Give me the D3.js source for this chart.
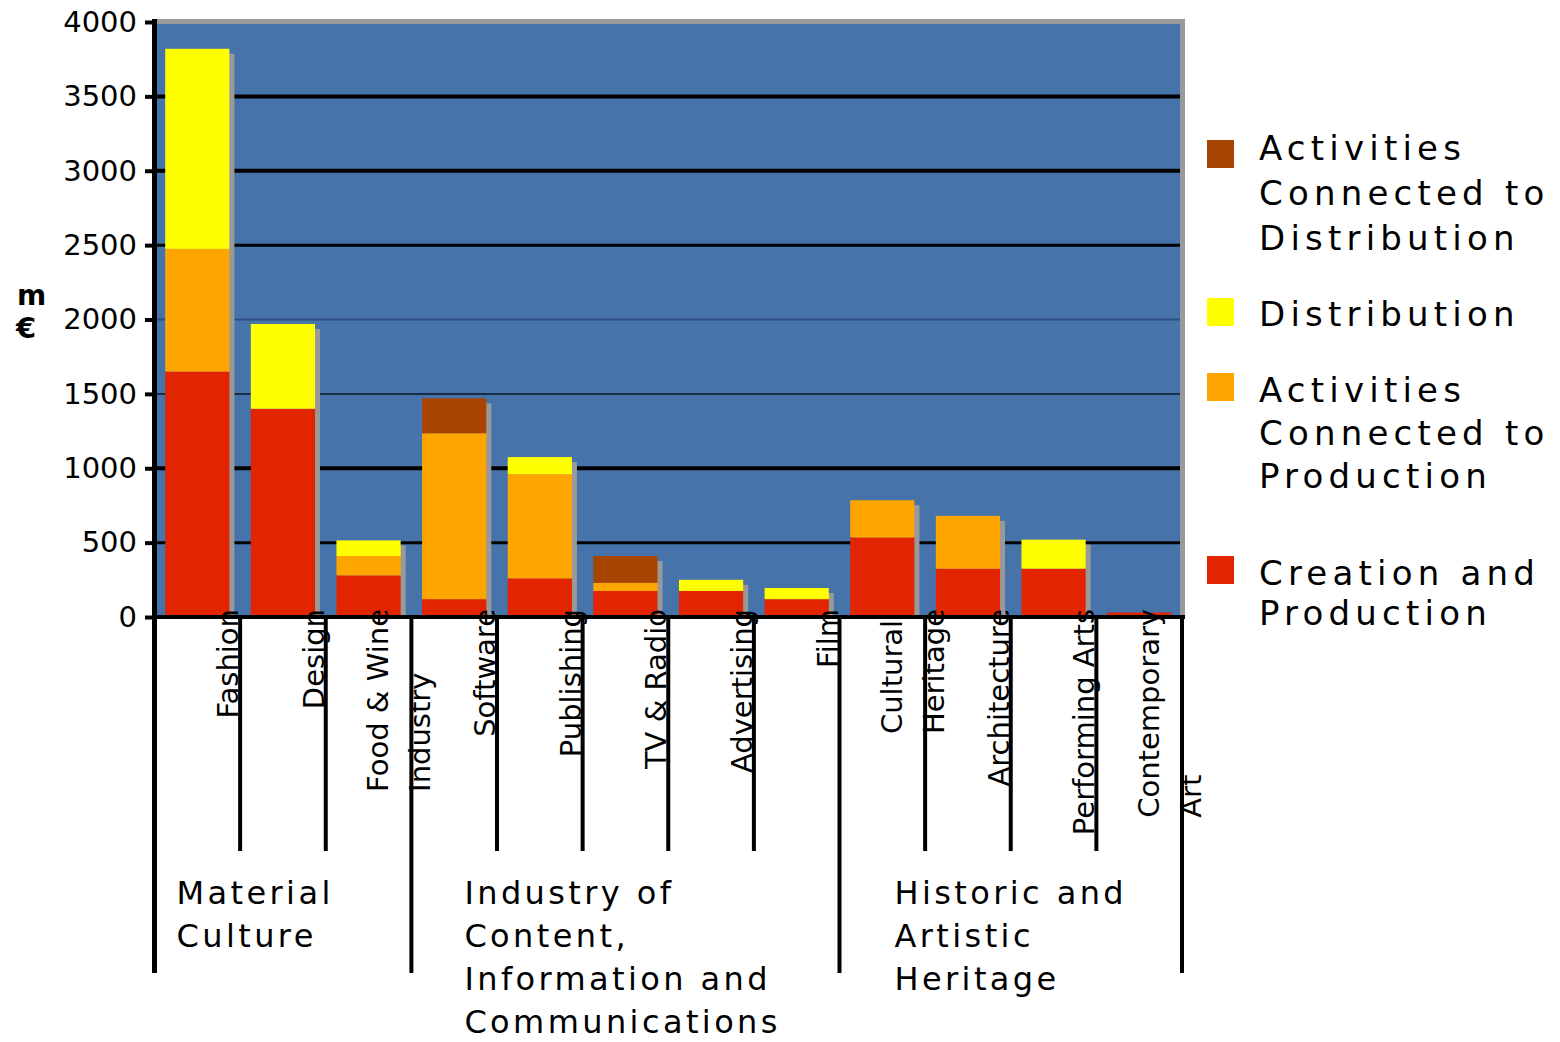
<!DOCTYPE html>
<html><head><meta charset="utf-8">
<script src="https://cdn.jsdelivr.net/npm/d3@7"></script>
<style>
body{margin:0;background:#fff}
svg{display:block}
text{font-family:"DejaVu Sans",Verdana,sans-serif;fill:#000}
</style>
</head><body>
<svg id="chart" width="1560" height="1042"></svg>
<script>
// ---------------- data ----------------
const categories = ["Fashion","Design","Food & Wine Industry","Software","Publishing","TV & Radio","Advertising","Film","Cultural Heritage","Architecture","Performing Arts","Contemporary Art"];
const categoryLines = [["Fashion"],["Design"],["Food & Wine","Industry"],["Software"],["Publishing"],["TV & Radio"],["Advertising"],["Film"],["Cultural","Heritage"],["Architecture"],["Performing Arts"],["Contemporary","Art"]];
const creationProduction    = [1650,1400,280,120,260,175,175,120,535,325,325,30];
const activitiesProduction  = [825,0,130,1115,700,55,0,0,250,355,0,0];
const distribution          = [1345,570,105,0,115,0,75,75,0,0,195,0];
const activitiesDistribution= [0,0,0,235,0,180,0,0,0,0,0,0];
const seriesKeys   = ["creation","actProd","distrib","actDist"];
const seriesNames  = ["Creation and Production","Activities Connected to Production","Distribution","Activities Connected to Distribution"];
const seriesColors = ["#e32400","#ffa500","#ffff00","#a84500"];
const legendLines  = [["Activities","Connected to","Distribution"],["Distribution"],["Activities","Connected to","Production"],["Creation and","Production"]];
const legendSeries = [3,2,1,0];
const groupNames = ["Material Culture","Industry of Content, Information and Communications","Historic and Artistic Heritage"];
const groupLines = [["Material","Culture"],["Industry of","Content,","Information and","Communications"],["Historic and","Artistic","Heritage"]];
const groupSizes = [3,5,4];
const yTicks = [0,500,1000,1500,2000,2500,3000,3500,4000];
const yUnitLines = ["m","€"];

// ---------------- layout ----------------
const svg = d3.select("#chart");
const plotL = 157, plotR = 1180, plotT = 24, base = 617;
const x = d3.scaleBand().domain(categories).range([154.5, 1182]).paddingInner(0.25).paddingOuter(0.125);
const y = d3.scaleLinear().domain([0, 4000]).range([base, 22]);
const boundary = c => x(c) + x.bandwidth() + x.step() * 0.125;
const total = d => d.creation + d.actProd + d.distrib + d.actDist;

const rows = categories.map((c, i) => ({cat: c, creation: creationProduction[i], actProd: activitiesProduction[i], distrib: distribution[i], actDist: activitiesDistribution[i]}));
const stacked = d3.stack().keys(seriesKeys)(rows);

// plot frame (gray top/right edge) and background
svg.append("rect").attr("x", plotL).attr("y", 19).attr("width", 1185 - plotL).attr("height", base - 19).attr("fill", "#9a9a9a");
svg.append("rect").attr("x", plotL).attr("y", plotT).attr("width", plotR - plotL).attr("height", base - plotT).attr("fill", "#4573aa");

// gridlines
const gridStyle = v => ({500:[3,"#000"],1000:[4,"#000"],1500:[2,"#1b2c45"],2000:[2,"#2d4f80"],2500:[3,"#000"],3000:[4,"#000"],3500:[4,"#000"]})[v];
svg.append("g").selectAll("line").data(yTicks.filter(v => v > 0 && v < 4000)).join("line")
  .attr("x1", plotL).attr("x2", plotR)
  .attr("y1", d => y(d)).attr("y2", d => y(d))
  .attr("stroke", d => gridStyle(d)[1]).attr("stroke-width", d => gridStyle(d)[0]);

// bar shadows (offset right/down, ending at the baseline)
svg.append("g").selectAll("rect").data(rows).join("rect")
  .attr("x", d => x(d.cat) + 5)
  .attr("y", d => y(total(d)) + 5)
  .attr("width", x.bandwidth())
  .attr("height", d => Math.max(0, base - y(total(d)) - 5))
  .attr("fill", "#999");

// stacked bars
svg.append("g").selectAll("g").data(stacked).join("g")
  .attr("fill", (d, i) => seriesColors[i])
  .selectAll("rect").data(d => d).join("rect")
  .attr("x", d => x(d.data.cat))
  .attr("y", d => y(d[1]))
  .attr("width", x.bandwidth())
  .attr("height", d => y(d[0]) - y(d[1]));

// category labels (rotated, multi-line, lines start-aligned)
const catG = svg.append("g");
categories.forEach((c, i) => {
  const lines = categoryLines[i];
  const n = lines.length;
  const b = boundary(c);
  const texts = lines.map(t => catG.append("text").text(t)
      .attr("font-size", 29).attr("text-anchor", "start"));
  const maxLen = d3.max(texts, t => t.node().getComputedTextLength());
  const yStart = 609 + maxLen;
  texts.forEach((t, j) => {
    const bx = b - 2 + (j - (n - 1) / 2) * 42;
    t.attr("transform", `translate(${bx},${yStart}) rotate(-90)`);
  });
});

// x axis line
svg.append("line").attr("x1", 152).attr("x2", 1185).attr("y1", base).attr("y2", base).attr("stroke", "#000").attr("stroke-width", 4);

// category separators and group separators
let acc = 0;
const groupEdges = [0];
groupSizes.forEach(s => { acc += s; groupEdges.push(acc); });
categories.forEach((c, i) => {
  const isGroupEdge = groupEdges.includes(i + 1);
  svg.append("line").attr("x1", boundary(c)).attr("x2", boundary(c))
    .attr("y1", base).attr("y2", isGroupEdge ? 973 : 851)
    .attr("stroke", "#000").attr("stroke-width", 4);
});

// y axis line (continues down as left group separator)
svg.append("line").attr("x1", 154.5).attr("x2", 154.5).attr("y1", 19).attr("y2", 973).attr("stroke", "#000").attr("stroke-width", 5);

// y axis ticks + labels
const yAxis = d3.axisLeft(y).tickValues(yTicks).tickSize(12).tickPadding(8).tickFormat(d3.format("d"));
const yg = svg.append("g").attr("transform", `translate(157,0)`).call(yAxis);
yg.select(".domain").remove();
yg.selectAll(".tick line").attr("stroke", "#000").attr("stroke-width", 4);
yg.selectAll(".tick text").attr("font-size", 29).attr("font-family", '"DejaVu Sans",Verdana,sans-serif').attr("fill", "#000");

// unit label
svg.append("text").attr("x", 17).attr("y", 305).attr("font-size", 28).attr("font-weight", "bold").text(yUnitLines[0]);
svg.append("text").attr("x", 16).attr("y", 338).attr("font-size", 29).attr("font-weight", "bold").text(yUnitLines[1]);

// group labels
const groupOffsets = [22, 53, 55];
groupLines.forEach((lines, g) => {
  const startX = g === 0 ? 154.5 : boundary(categories[groupEdges[g] - 1]);
  const t = svg.append("text").attr("font-size", 32).attr("letter-spacing", 3.4);
  lines.forEach((ln, j) => t.append("tspan").attr("x", startX + groupOffsets[g]).attr("y", 904 + j * 43).text(ln));
});

// legend
const legSquareY = [140, 298, 373, 556];
const legTextY   = [160, 326, 402, 585];
const legLineH   = [45, 45, 43, 40];
const leg = svg.append("g");
legendSeries.forEach((s, k) => {
  leg.append("rect").attr("x", 1207).attr("y", legSquareY[k]).attr("width", 27).attr("height", 28).attr("fill", seriesColors[s]);
  const t = leg.append("text").attr("font-size", 34).attr("letter-spacing", 5.2);
  legendLines[k].forEach((ln, j) => t.append("tspan").attr("x", 1259).attr("y", legTextY[k] + j * legLineH[k]).text(ln));
});
</script>
</body></html>
